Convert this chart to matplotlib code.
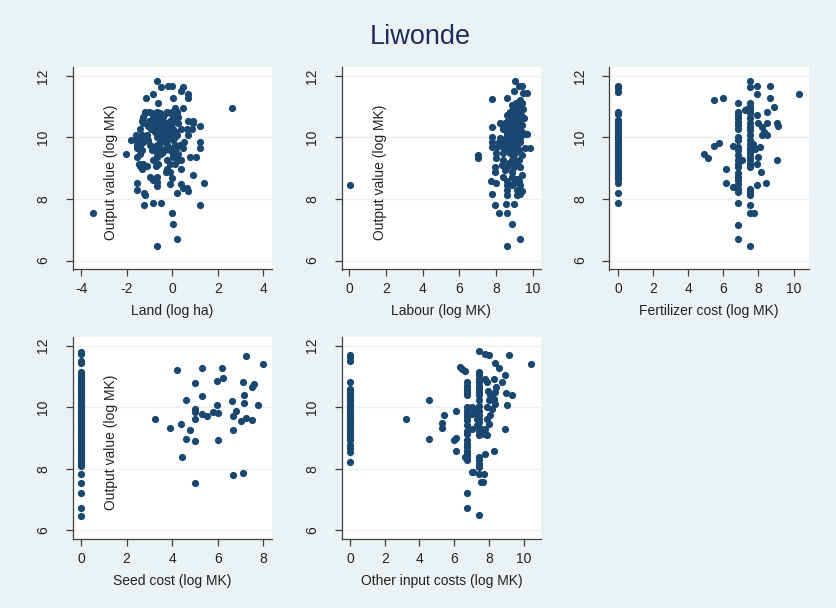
import matplotlib.pyplot as plt

plt.rcParams['font.family'] = ['Liberation Sans', 'DejaVu Sans']
plt.rcParams['axes.unicode_minus'] = False

navy = '#1a476f'
bg = '#eaf2f3'

# output value (log MK) against each input, grouped as (y, [x, ...]) rows
land_rows = [
    (11.82, [-0.66]),
    (11.68, [-0.18, -0.03]),
    (11.65, [-0.51, 0.45]),
    (11.51, [0.38]),
    (11.41, [-0.85, 0.70]),
    (11.29, [0.01]),
    (11.27, [-1.16, 0.70]),
    (11.13, [-0.64]),
    (10.95, [2.64, 0.12, 0.45]),
    (10.84, [-1.20, -1.01, -0.69, -0.25, -0.03, 0.19]),
    (10.78, [-1.20, -0.91, -0.54, -0.28, -0.06, 0.22]),
    (10.67, [-1.27, -0.84, -0.62, -0.40, 0.04, 0.26]),
    (10.53, [-1.35, -1.01, -0.76, -0.54, -0.10, 0.12, 0.70, 0.92]),
    (10.46, [-1.27, -0.91, -0.54, -0.32, -0.03, 0.26, 0.89]),
    (10.37, [-1.05, -0.69, -0.40, -0.10, 1.22]),
    (10.26, [-1.42, -0.95, -0.62, -0.37, 0.04, 0.37, 0.63, 0.85]),
    (10.18, [-0.76, -0.47, -0.18, 0.12]),
    (10.08, [-1.60, -1.35, -1.10, -0.54, -0.28, 0.01, 0.19, 0.70]),
    (10.00, [-1.42, -1.20, -0.69, -0.25, -0.10, 0.12]),
    (9.91, [-1.83, -1.60, -1.05, -0.47, -0.22, 0.04]),
    (9.86, [-1.27, -0.54, -0.32, 0.51, 1.22]),
    (9.75, [-1.54, -1.42, -0.98, -0.69, -0.25, 0.12, 0.34]),
    (9.67, [-1.57, -0.72, -0.54, -0.03, 0.16, 0.45, 1.22]),
    (9.59, [-1.35, -0.91, -0.62, -0.32, -0.10]),
    (9.50, [-0.69, -0.47, 0.07]),
    (9.45, [-2.04, -1.42, -0.54, 0.04, 0.26]),
    (9.35, [-1.57, -0.69, 0.04, 0.19, 0.78, 1.04]),
    (9.26, [-0.86, -0.25, 0.26, 0.37]),
    (9.15, [-1.47, -1.27, -0.62, -0.10, 0.12]),
    (9.07, [-1.42, -1.20, -1.10, -0.72]),
    (8.99, [-1.35, -0.22, 0.37]),
    (8.88, [-0.28, -0.10]),
    (8.79, [0.92]),
    (8.72, [-0.98, -0.69]),
    (8.68, [-0.03]),
    (8.61, [-0.84]),
    (8.55, [-0.66]),
    (8.52, [-1.57, 1.39]),
    (8.48, [-0.10, 0.37]),
    (8.41, [-0.66]),
    (8.36, [0.48, 0.63]),
    (8.28, [-1.54]),
    (8.26, [0.70]),
    (8.20, [-1.25, 0.19]),
    (8.14, [-1.20]),
    (7.87, [-0.86, -0.51]),
    (7.82, [-1.25, 1.22]),
    (7.55, [-3.50, -0.03]),
    (7.20, [0.01]),
    (6.70, [0.22]),
    (6.46, [-0.66]),
]

labour_rows = [
    (11.82, [9.04]),
    (11.68, [9.27, 9.40]),
    (11.52, [8.95]),
    (11.43, [9.46, 9.68]),
    (11.27, [8.58]),
    (11.26, [7.75]),
    (11.22, [9.31]),
    (11.11, [9.40, 9.10]),
    (11.05, [8.86, 9.20]),
    (11.00, [9.13, 8.95]),
    (10.91, [9.46, 8.90, 9.05]),
    (10.84, [8.77, 9.04, 9.25]),
    (10.78, [9.22, 8.90]),
    (10.73, [8.58, 8.72, 9.04, 9.35]),
    (10.67, [8.95, 9.15]),
    (10.62, [9.49, 8.80, 9.05]),
    (10.57, [8.86, 9.31, 8.65]),
    (10.48, [8.22, 8.49, 8.86, 9.05]),
    (10.40, [9.13, 9.40, 8.70, 8.95]),
    (10.35, [7.77, 8.35]),
    (10.29, [8.40, 8.77, 9.00, 9.25]),
    (10.24, [9.13, 8.95, 8.60]),
    (10.18, [9.40, 8.85]),
    (10.11, [8.58, 8.95, 9.49, 9.67, 9.20]),
    (10.02, [7.77, 8.75, 9.05]),
    (9.97, [8.22, 8.55, 9.30]),
    (9.86, [7.77, 8.13, 8.49, 8.86, 9.31, 9.05]),
    (9.78, [8.65, 9.15]),
    (9.70, [7.77, 8.04, 8.40, 8.77, 9.13, 8.95]),
    (9.66, [9.58, 9.86]),
    (9.58, [8.60, 9.25]),
    (9.48, [7.99, 8.40, 8.77, 9.04]),
    (9.42, [7.04, 9.40]),
    (9.34, [7.04, 7.99, 8.90]),
    (9.26, [8.40, 8.86, 9.22]),
    (9.18, [8.70, 9.05]),
    (9.10, [8.31]),
    (9.04, [7.95, 8.58, 8.95, 9.31]),
    (8.93, [8.49]),
    (8.88, [7.95, 8.86]),
    (8.77, [9.40]),
    (8.72, [8.37, 8.86]),
    (8.66, [9.13]),
    (8.58, [7.73, 8.58, 9.22]),
    (8.53, [7.99, 8.95]),
    (8.47, [0.05]),
    (8.45, [8.58, 8.86, 9.31]),
    (8.30, [8.58, 9.13]),
    (8.25, [9.40]),
    (8.17, [7.75, 9.31]),
    (8.12, [8.58, 9.13]),
    (7.85, [8.53]),
    (7.83, [8.95]),
    (7.79, [7.95]),
    (7.55, [8.17, 8.58]),
    (7.20, [8.86]),
    (6.70, [9.31]),
    (6.46, [8.58]),
]

# fertilizer cost: plots with no fertilizer sit at zero
fert_zero_y = [11.67, 11.60, 11.49, 10.84, 10.76, 10.57, 10.52, 10.46, 10.41,
               10.35, 10.30, 10.24, 10.19, 10.13, 10.07, 10.02, 9.96, 9.91,
               9.85, 9.80, 9.75, 9.70, 9.64, 9.59, 9.53, 9.48, 9.42, 9.37,
               9.31, 9.26, 9.20, 9.15, 9.09, 9.04, 8.98, 8.93, 8.85, 8.77,
               8.71, 8.66, 8.52, 8.20, 7.87]
fert_x = [6.82] * 24 + [7.52] * 26 + [
    4.91, 5.10, 5.49, 6.00, 5.49, 5.77, 6.13, 6.13, 6.53, 6.57, 7.05, 7.24,
    7.33, 7.71, 7.81, 7.77, 7.94, 7.94, 7.94, 8.00, 7.90, 8.00, 8.19, 8.48,
    8.29, 8.48, 8.19, 8.10, 8.13, 7.90, 8.42, 8.48, 8.67, 8.63, 8.90, 9.05,
    9.14, 9.05, 10.29]
fert_y = [
    11.11, 10.84, 10.73, 10.62, 10.51, 10.40, 10.29, 10.02, 9.91, 9.70, 9.59,
    9.42, 9.26, 9.15, 9.04, 8.83, 8.72, 8.61, 8.50, 8.34, 8.23, 7.87, 7.17,
    6.70,
    11.82, 11.65, 11.11, 11.00, 10.89, 10.78, 10.62, 10.46, 10.35, 10.24,
    10.08, 9.91, 9.80, 9.67, 9.59, 9.48, 9.37, 9.26, 9.15, 9.04, 8.34, 8.23,
    8.12, 7.79, 7.54, 6.46,
    9.45, 9.34, 11.22, 11.27, 9.72, 9.83, 8.99, 8.53, 9.72, 8.39, 9.26, 10.89,
    10.91, 9.80, 9.64, 7.54, 11.67, 11.41, 10.73, 9.37, 9.15, 10.46, 10.35,
    10.46, 10.18, 10.08, 10.08, 9.70, 8.88, 8.45, 8.53, 10.84, 11.67, 11.27,
    11.00, 10.46, 10.37, 9.26, 11.41]

seed_zero_y = [11.80, 11.73, 11.51, 11.42, 11.13, 11.05, 10.98, 10.90, 10.82,
               10.75, 10.68, 10.60, 10.52, 10.45, 10.38, 10.30, 10.22, 10.15,
               10.08, 10.00, 9.92, 9.85, 9.78, 9.70, 9.62, 9.55, 9.48, 9.40,
               9.32, 9.25, 9.18, 9.10, 9.02, 8.95, 8.88, 8.80, 8.72, 8.65,
               8.58, 8.50, 8.42, 8.35, 8.28, 8.20, 8.12, 8.08, 7.82, 7.55,
               7.20, 6.72, 6.47]
seed_x = [3.27, 3.90, 4.23, 4.37, 4.44, 4.61, 4.61, 4.78, 5.00, 5.00, 5.00,
          5.00, 5.00, 5.00, 5.29, 5.29, 5.29, 5.51, 5.80, 5.99, 5.95, 5.98,
          6.02, 6.20, 6.24, 6.64, 6.65, 6.68, 6.80, 6.65, 7.09, 7.09, 7.16,
          7.16, 7.04, 7.26, 7.49, 7.24, 7.49, 7.60, 7.78, 7.97]
seed_y = [9.61, 9.32, 11.21, 9.46, 8.39, 10.23, 8.96, 9.25, 10.77, 9.94, 9.85,
          9.61, 8.89, 7.55, 11.26, 10.37, 9.78, 9.72, 9.85, 9.80, 10.84, 10.07,
          8.93, 11.26, 10.94, 10.19, 9.25, 9.70, 9.88, 7.79, 7.86, 10.81, 10.39,
          10.13, 9.54, 9.65, 9.59, 11.67, 10.64, 10.75, 10.07, 11.40]

other_zero_y = [11.70, 11.62, 11.49, 10.83, 10.59, 10.51, 10.43, 10.35, 10.27,
                10.19, 10.11, 10.03, 9.95, 9.87, 9.79, 9.71, 9.63, 9.55, 9.47,
                9.39, 9.31, 9.23, 9.15, 9.07, 8.99, 8.92, 8.76, 8.67, 8.54,
                8.22]
other_x = [6.73] * 20 + [7.44] * 22 + [
    3.21, 4.52, 4.52, 5.29, 5.29, 5.42, 5.96, 6.10, 6.10, 6.08, 6.31, 6.44,
    6.63, 6.63, 7.00, 7.10, 6.73, 6.73, 7.02, 7.02, 7.02, 7.40, 7.72, 7.65,
    7.55, 7.44, 7.79, 7.88, 7.92, 8.08, 7.98, 7.88, 8.17, 8.27, 8.08, 7.88,
    7.98, 7.79, 7.69, 7.88, 7.79, 7.79, 7.98, 8.27, 8.37, 8.60, 8.40, 8.37,
    8.27, 8.37, 8.27, 8.75, 8.90, 8.94, 8.98, 9.04, 9.33, 9.17, 10.44, 7.12,
    7.21, 7.31, 7.31]
other_y = [
    10.81, 10.70, 10.59, 10.49, 10.38, 10.00, 9.89, 9.78, 9.68, 9.57, 9.41,
    9.24, 9.14, 8.92, 8.81, 8.70, 8.59, 8.49, 8.38, 8.27,
    11.14, 11.03, 10.92, 10.81, 10.70, 10.59, 10.49, 10.38, 10.22, 10.05,
    9.89, 9.73, 9.62, 9.51, 9.35, 9.24, 9.08, 8.38, 8.27, 8.16, 8.05, 7.82,
    9.62, 10.24, 8.97, 9.48, 9.33, 9.76, 8.94, 9.01, 9.86, 8.56, 11.30, 11.24,
    11.16, 8.38, 7.89, 7.89, 7.22, 6.74, 10.00, 9.78, 9.30, 11.81, 7.82, 7.57,
    7.57, 6.51, 10.92, 10.81, 10.54, 10.38, 10.22, 10.00, 9.95, 10.22, 9.73,
    9.62, 9.46, 9.30, 9.14, 9.08, 8.49, 11.73, 11.70, 10.92, 11.43, 11.26,
    10.65, 10.49, 10.27, 10.11, 8.56, 10.81, 11.03, 9.30, 10.45, 10.08,
    10.40, 11.70, 11.41, 9.95, 9.80, 9.62, 9.41]


def unroll(rows):
    xs, ys = [], []
    for y, row in rows:
        xs += row
        ys += [y] * len(row)
    return xs, ys


land_x, land_y = unroll(land_rows)
labour_x, labour_y = unroll(labour_rows)

panels = [
    (land_x, land_y, 'Land (log ha)', [-4, -2, 0, 2, 4], (-4.38, 4.38), True),
    (labour_x, labour_y, 'Labour (log MK)', [0, 2, 4, 6, 8, 10], (-0.4, 10.44), True),
    ([0] * len(fert_zero_y) + fert_x, fert_zero_y + fert_y,
     'Fertilizer cost (log MK)', [0, 2, 4, 6, 8, 10], (-0.51, 10.86), False),
    ([0] * len(seed_zero_y) + seed_x, seed_zero_y + seed_y,
     'Seed cost (log MK)', [0, 2, 4, 6, 8], (-0.36, 8.38), True),
    ([0] * len(other_zero_y) + other_x, other_zero_y + other_y,
     'Other input costs (log MK)', [0, 2, 4, 6, 8, 10], (-0.48, 11.0), False),
]

W, H = 836, 608
lefts = [72.7, 341.7, 609.3]
tops = [67, 336.7]
pw, ph = 199.3, 202.5

fig = plt.figure(figsize=(W / 100, H / 100), dpi=100, facecolor=bg)
fig.text(420 / W, 1 - 44 / H, 'Liwonde', ha='center', va='baseline',
         fontsize=19.5, color='#1e2d5c')

for i, (x, y, xlab, xt, xl, ytitle) in enumerate(panels):
    left = lefts[i % 3]
    top = tops[i // 3]
    ax = fig.add_axes([left / W, 1 - (top + ph) / H, pw / W, ph / H])
    ax.set_facecolor('white')
    ax.scatter(x, y, s=27, color=navy, linewidths=0, zorder=3)
    ax.set_xlim(xl)
    ax.set_ylim(5.71, 12.29)
    ax.set_xticks(xt)
    ax.set_yticks([6, 8, 10, 12])
    for v in [6, 8, 10, 12]:
        ax.axhline(v, color=bg, lw=1, zorder=1)
    for s in ['top', 'right']:
        ax.spines[s].set_visible(False)
    for s in ['left', 'bottom']:
        ax.spines[s].set_color('#404040')
        ax.spines[s].set_linewidth(0.9)
    ax.tick_params(axis='x', length=5, width=0.9, color='#404040',
                   labelsize=10, pad=4, labelcolor='#222222')
    ax.tick_params(axis='y', length=5, width=0.9, color='#404040',
                   labelsize=10, pad=11, labelcolor='#222222',
                   labelrotation=90)
    for lbl in ax.get_yticklabels():
        lbl.set_va('center')
    ax.set_xlabel(xlab, fontsize=10, labelpad=6, color='#222222')
    if ytitle:
        ax.text(0.19, 0.48, 'Output value (log MK)', transform=ax.transAxes,
                rotation=90, ha='center', va='center', fontsize=10,
                color='#222222')

fig.savefig('out.png', dpi=100, facecolor=bg)
